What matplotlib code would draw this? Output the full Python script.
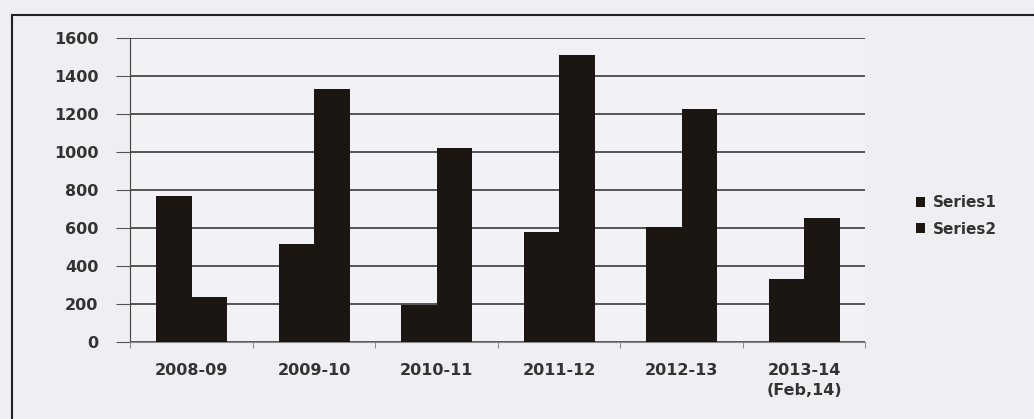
import matplotlib
matplotlib.use("Agg")
import matplotlib.pyplot as plt
import numpy as np
from matplotlib.patches import Rectangle

categories = ["2008-09", "2009-10", "2010-11", "2011-12", "2012-13", "2013-14\n(Feb,14)"]
series1 = [770, 515, 195, 580, 605, 330]
series2 = [235, 1330, 1020, 1510, 1225, 650]
yticks = [0, 200, 400, 600, 800, 1000, 1200, 1400, 1600]

plt.rcParams['font.family'] = ['DejaVu Sans']

fig = plt.figure(figsize=(10.34, 4.19), dpi=100)
fig.patch.set_facecolor('#eeeef3')
ax = fig.add_axes([0.126, 0.184, 0.711, 0.725])
ax.set_facecolor('#f2f2f6')

x = np.arange(len(categories))
w = 0.29
ax.bar(x - w/2, series1, width=w, color='#1c1612', label='Series1', zorder=3)
ax.bar(x + w/2, series2, width=w, color='#1c1612', label='Series2', zorder=3)

fs = 11.5
tc = '#333333'
ax.set_xlim(-0.5, len(categories) - 0.5)
ax.set_ylim(0, 1600)
ax.set_yticks(yticks)
ax.set_yticklabels([str(v) for v in yticks], fontsize=fs, fontweight='bold', color=tc)
ax.set_xticks(x)
ax.set_xticklabels(categories, fontsize=fs, fontweight='bold', color=tc, linespacing=1.4)
ax.set_xticks(np.arange(-0.5, len(categories)), minor=True)
ax.tick_params(axis='x', which='major', length=0, pad=15)
ax.tick_params(axis='x', which='minor', length=4, color='#777777', direction='out')
ax.tick_params(axis='y', length=10, color='#555555', pad=13)
ax.grid(axis='y', color='#3a3a3a', linewidth=1.2, zorder=0)
for s in ['top', 'right']:
    ax.spines[s].set_visible(False)
ax.spines['left'].set_color('#444444')
ax.spines['bottom'].set_color('#888888')

leg = ax.legend(loc='center left', bbox_to_anchor=(1.05, 0.415), frameon=False,
                fontsize=fs - 0.5, handlelength=0.6, handleheight=0.6, handletextpad=0.5,
                labelspacing=0.75)
for t in leg.get_texts():
    t.set_fontweight('bold')
    t.set_color(tc)

fig.patches.append(Rectangle((0.012, -0.1), 1.2, 1.065, transform=fig.transFigure,
                             fill=False, edgecolor='#222222', linewidth=1.5))

fig.savefig('out.png', dpi=100, facecolor=fig.get_facecolor())
